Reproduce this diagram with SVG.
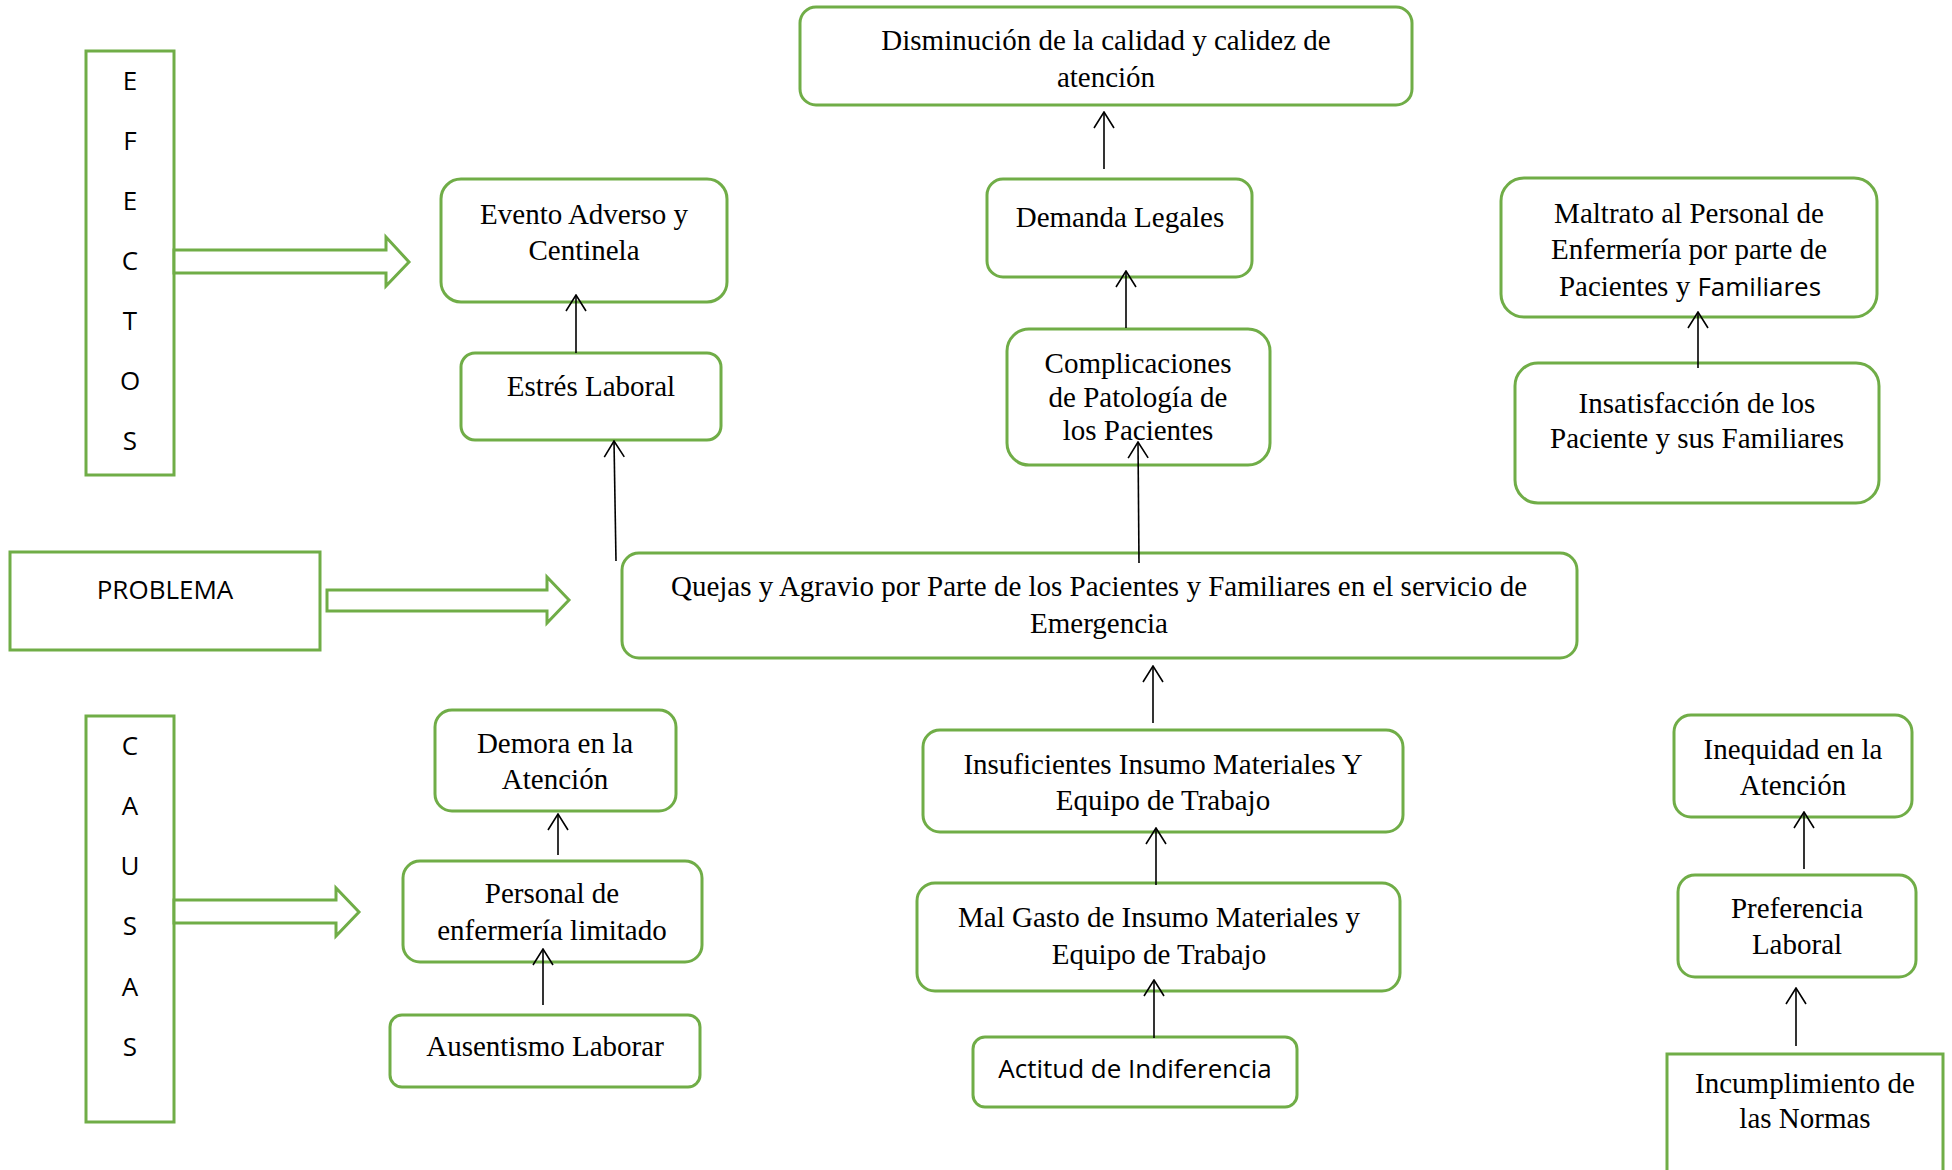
<svg xmlns="http://www.w3.org/2000/svg" width="1952" height="1170" viewBox="0 0 1952 1170">
<defs>
<style>
.box{fill:#fff;stroke:#70AD47;stroke-width:3}
.big{fill:#fff;stroke:#70AD47;stroke-width:3;stroke-linejoin:miter}
.t{font-family:"Liberation Serif","Times New Roman",serif;font-size:29px;fill:#000;text-anchor:middle}
.s{font-family:"Open Sans","Liberation Sans",sans-serif;font-size:26px;fill:#000;text-anchor:middle}
.c{stroke:#000;stroke-width:1.6;fill:none;marker-end:url(#open)}
</style>
<marker id="open" viewBox="0 0 18 22" refX="17" refY="11" markerWidth="18" markerHeight="22" orient="auto" markerUnits="userSpaceOnUse">
<path d="M1,1 L17,11 L1,21" fill="none" stroke="#000" stroke-width="1.6"/>
</marker>
</defs>
<rect width="1952" height="1170" fill="#fff"/>

<g id="efectos">
<rect class="box" x="86" y="51" width="88" height="424"/>
<text class="s" x="130" y="90">E</text>
<text class="s" x="130" y="150">F</text>
<text class="s" x="130" y="210">E</text>
<text class="s" x="130" y="270">C</text>
<text class="s" x="130" y="330">T</text>
<text class="s" x="130" y="390">O</text>
<text class="s" x="130" y="450">S</text>
</g>
<g id="problema">
<rect class="box" x="10" y="552" width="310" height="98"/>
<text class="s" x="165" y="599">PROBLEMA</text>
</g>
<g id="causas">
<rect class="box" x="86" y="716" width="88" height="406"/>
<text class="s" x="130" y="755">C</text>
<text class="s" x="130" y="815">A</text>
<text class="s" x="130" y="875">U</text>
<text class="s" x="130" y="935">S</text>
<text class="s" x="130" y="996">A</text>
<text class="s" x="130" y="1056">S</text>
</g>

<g id="block-arrows">
<path class="big" d="M174,250 H386 V237 L409,262 L386,286 V273 H174 Z"/>
<path class="big" d="M327,590 H547 V577 L569,600 L547,623 V611 H327 Z"/>
<path class="big" d="M174,900 H336 V888 L359,912 L336,936 V923 H174 Z"/>
</g>

<g id="disminucion">
<rect class="box" x="800" y="7" width="612" height="98" rx="16"/>
<text class="t" x="1106" y="50">Disminución de la calidad y calidez de</text>
<text class="t" x="1106" y="87">atención</text>
</g>
<g id="demanda">
<rect class="box" x="987" y="179" width="265" height="98" rx="16"/>
<text class="t" x="1120" y="227">Demanda Legales</text>
</g>
<g id="complicaciones">
<rect class="box" x="1007" y="329" width="263" height="136" rx="22"/>
<text class="t" x="1138" y="373">Complicaciones</text>
<text class="t" x="1138" y="407">de Patología de</text>
<text class="t" x="1138" y="440">los Pacientes</text>
</g>
<g id="evento">
<rect class="box" x="441" y="179" width="286" height="123" rx="20"/>
<text class="t" x="584" y="224">Evento Adverso y</text>
<text class="t" x="584" y="260">Centinela</text>
</g>
<g id="estres">
<rect class="box" x="461" y="353" width="260" height="87" rx="14"/>
<text class="t" x="591" y="396">Estrés Laboral</text>
</g>
<g id="maltrato">
<rect class="box" x="1501" y="178" width="376" height="139" rx="23"/>
<text class="t" x="1689" y="223">Maltrato al Personal de</text>
<text class="t" x="1689" y="259">Enfermería por parte de</text>
<text class="t" x="1690" y="296">Pacientes y <tspan style="font-family:'Open Sans','Liberation Sans',sans-serif;font-size:26px">Familiares</tspan></text>
</g>
<g id="insatisfaccion">
<rect class="box" x="1515" y="363" width="364" height="140" rx="23"/>
<text class="t" x="1697" y="413">Insatisfacción de los</text>
<text class="t" x="1697" y="448">Paciente y sus Familiares</text>
</g>
<g id="quejas">
<rect class="box" x="622" y="553" width="955" height="105" rx="17"/>
<text class="t" x="1099" y="596">Quejas y Agravio por Parte de los Pacientes y Familiares en el servicio de</text>
<text class="t" x="1099" y="633">Emergencia</text>
</g>
<g id="demora">
<rect class="box" x="435" y="710" width="241" height="101" rx="17"/>
<text class="t" x="555" y="753">Demora en la</text>
<text class="t" x="555" y="789">Atención</text>
</g>
<g id="personal">
<rect class="box" x="403" y="861" width="299" height="101" rx="17"/>
<text class="t" x="552" y="903">Personal de</text>
<text class="t" x="552" y="940">enfermería limitado</text>
</g>
<g id="ausentismo">
<rect class="box" x="390" y="1015" width="310" height="72" rx="12"/>
<text class="t" x="545" y="1056">Ausentismo Laborar</text>
</g>
<g id="insuficientes">
<rect class="box" x="923" y="730" width="480" height="102" rx="17"/>
<text class="t" x="1163" y="774">Insuficientes Insumo Materiales Y</text>
<text class="t" x="1163" y="810">Equipo de Trabajo</text>
</g>
<g id="malgasto">
<rect class="box" x="917" y="883" width="483" height="108" rx="18"/>
<text class="t" x="1159" y="927">Mal Gasto de Insumo Materiales y</text>
<text class="t" x="1159" y="964">Equipo de Trabajo</text>
</g>
<g id="actitud">
<rect class="box" x="973" y="1037" width="324" height="70" rx="12"/>
<text class="s" x="1135" y="1078">Actitud de Indiferencia</text>
</g>
<g id="inequidad">
<rect class="box" x="1674" y="715" width="238" height="102" rx="17"/>
<text class="t" x="1793" y="759">Inequidad en la</text>
<text class="t" x="1793" y="795">Atención</text>
</g>
<g id="preferencia">
<rect class="box" x="1678" y="875" width="238" height="102" rx="17"/>
<text class="t" x="1797" y="918">Preferencia</text>
<text class="t" x="1797" y="954">Laboral</text>
</g>
<g id="incumplimiento">
<rect class="box" x="1667" y="1054" width="276" height="130"/>
<text class="t" x="1805" y="1093">Incumplimiento de</text>
<text class="t" x="1805" y="1128">las Normas</text>
</g>

<g id="connectors">
<line class="c" x1="576" y1="353" x2="576" y2="295"/>
<line class="c" x1="616" y1="561" x2="614" y2="441"/>
<line class="c" x1="1104" y1="169" x2="1104" y2="112"/>
<line class="c" x1="1126" y1="328" x2="1126" y2="271"/>
<line class="c" x1="1139" y1="563" x2="1138" y2="442"/>
<line class="c" x1="1698" y1="368" x2="1698" y2="312"/>
<line class="c" x1="1153" y1="723" x2="1153" y2="666"/>
<line class="c" x1="1156" y1="885" x2="1156" y2="828"/>
<line class="c" x1="1154" y1="1038" x2="1154" y2="980"/>
<line class="c" x1="558" y1="855" x2="558" y2="814"/>
<line class="c" x1="543" y1="1005" x2="543" y2="949"/>
<line class="c" x1="1804" y1="869" x2="1804" y2="812"/>
<line class="c" x1="1796" y1="1046" x2="1796" y2="988"/>
</g>
</svg>
